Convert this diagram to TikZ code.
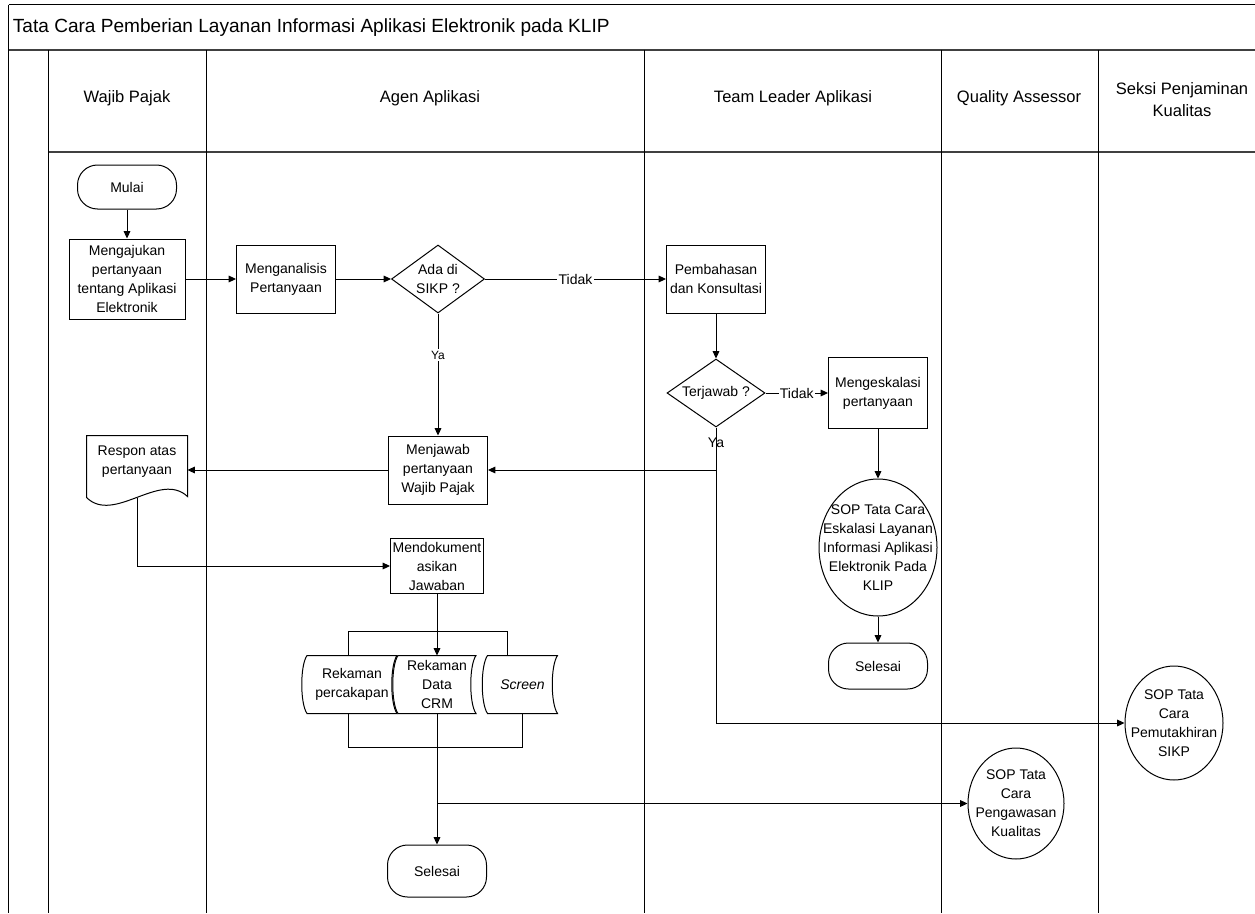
\documentclass[tikz,border=0pt]{standalone}
\usepackage{fontspec}
\setmainfont{Liberation Sans}
\usetikzlibrary{positioning,shapes.geometric,arrows.meta,calc}

\begin{document}
\begin{tikzpicture}[x=0.75pt, y=-0.75pt, line width=0.75pt,
    every node/.style={font=\fontsize{10.5}{14.25}\selectfont, align=center},
    proses/.style={draw, rectangle, inner sep=1pt, minimum width=74.25pt, minimum height=51pt},
    terminal/.style={draw, rectangle, rounded corners=15pt, minimum width=74.25pt},
    keputusan/.style={draw, diamond, inner sep=0pt},
    sop/.style={draw, ellipse, inner sep=0pt},
    rekaman/.style={rectangle, inner sep=0pt, minimum height=42.75pt},
    panah/.style={-{Triangle[length=5.5pt,width=5pt]}},
    lajur/.style={font=\fontsize{12.4}{16.5}\selectfont},
    ket/.style={fill=white, inner sep=1pt}]
    \useasboundingbox (0,0) rectangle (1255,913);

    \draw (8.5,5) -- (1255,5);
    \draw[line width=1.5pt, black!75] (8.5,50) -- (1255,50);
    \draw[line width=1.5pt, black!75] (48,152) -- (1255,152);
    \draw (8.5,5) -- (8.5,50);
    \foreach \x in {8.5,48,206,644,941,1098}
        \draw (\x,50) -- (\x,913);

    \node[anchor=west, font=\fontsize{14.3}{17}\selectfont] (judul) at (8,28) {Tata Cara Pemberian Layanan Informasi Aplikasi Elektronik pada KLIP};
    \node[lajur] (wp) at (127,98) {Wajib Pajak};
    \node[lajur] (agen) at (430,98) {Agen Aplikasi};
    \node[lajur] (tl) at (793,98) {Team Leader Aplikasi};
    \node[lajur] (qa) at (1019,98) {Quality Assessor};
    \node[lajur] (spk) at (1182,100) {Seksi Penjaminan\\Kualitas};

    \node[terminal, minimum height=33pt] (mulai) at (127,187) {Mulai};
    \node[proses, minimum width=87pt, minimum height=60pt] (ajukan) at (127,279) {Mengajukan\\pertanyaan\\tentang Aplikasi\\Elektronik};
    \node[proses] (analisis) at (286,279) {Menganalisis\\Pertanyaan};
    \node[keputusan, minimum width=69.75pt, minimum height=51pt, aspect=1.37] (sikp) at (438,279) {Ada di\\SIKP ?};
    \node[proses] (bahas) at (716,279) {Pembahasan\\dan Konsultasi};
    \node[keputusan, minimum width=73.5pt, minimum height=51pt, aspect=1.44] (terjawab) at (716,393) {Terjawab ?};
    \node[proses, minimum height=53.25pt] (eskalasi) at (878,393) {Mengeskalasi\\pertanyaan};
    \node[proses] (jawab) at (438,470) {Menjawab\\pertanyaan\\Wajib Pajak};
    \node[inner sep=0pt, minimum width=75pt, minimum height=39pt] (respon) at (137,462) {Respon atas\\pertanyaan};
    \node[proses, inner sep=0pt, minimum width=69.75pt, minimum height=41.25pt] (dokumen) at (437,566) {Mendokument\\asikan\\Jawaban};
    \node[rekaman, minimum width=66.75pt] (rek1) at (352,684.5) {Rekaman\\percakapan};
    \node[rekaman, minimum width=57.75pt] (crm) at (437,684.5) {Rekaman\\Data\\CRM};
    \node[rekaman, minimum width=51.75pt] (screen) at (522.5,684.5) {\textit{Screen}};
    \node[terminal, minimum height=39pt] (selesai) at (437,871) {Selesai};
    \node[sop, minimum width=88.5pt, minimum height=102.75pt] (eskal) at (878,547.5) {};
    \node (teks eskal) at (eskal) {SOP Tata Cara\\Eskalasi Layanan\\Informasi Aplikasi\\Elektronik Pada\\KLIP};
    \node[terminal, minimum height=34.5pt] (selesai2) at (878,666) {Selesai};
    \node[sop, minimum width=72pt, minimum height=83.25pt] (awas) at (1016,803.5) {};
    \node (teks awas) at (awas) {SOP Tata\\Cara\\Pengawasan\\Kualitas};
    \node[sop, minimum width=73.5pt, minimum height=85.5pt] (mutakhir) at (1174,723) {};
    \node (teks mutakhir) at (mutakhir) {SOP Tata\\Cara\\Pemutakhiran\\SIKP};

    \draw (respon.north west) -- (respon.north east) -- ($(respon.south east)+(0,8)$)
        .. controls ($(respon.south)+(23,-18)$) and ($(respon.south)+(-23,36)$) .. ($(respon.south west)+(0,9)$) -- cycle;
    \foreach \n in {rek1,crm,screen}
        \draw (\n.north west) .. controls +(-7,10) and +(-7,-10) .. (\n.south west) -- (\n.south east)
            .. controls +(-7,-10) and +(-7,10) .. (\n.north east) -- cycle;
    \draw ([xshift=-3pt]rek1.north) -- ++(0,-24) -| ([xshift=-11pt]screen.north);
    \draw ([xshift=-3pt]rek1.south) -- ++(0,34) -| (screen.south);

    \draw[panah] (mulai) -- (ajukan);
    \draw[panah] (ajukan) -- (analisis);
    \draw[panah] (analisis) -- (sikp);
    \draw[panah] (sikp) -- node[ket]{Tidak} (bahas);
    \draw[panah] (sikp) -- node[ket, pos=0.34, font=\fontsize{9}{11}\selectfont]{Ya} (jawab);
    \draw[panah] (bahas) -- (terjawab);
    \draw[panah] (terjawab) -- node[ket]{Tidak} (eskalasi);
    \draw[panah] (terjawab.south) |- (mutakhir.west);
    \node (ya) at (716,443) {Ya};
    \draw[panah] (terjawab.south |- jawab.east) -- (jawab.east);
    \draw[panah] (eskalasi) -- (eskal);
    \draw[panah] (eskal) -- (selesai2);
    \draw[panah] (jawab.west) -- (jawab.west -| respon.east);
    \draw[panah] ($(respon.south)+(0,9)$) |- (dokumen.west);
    \draw[panah] (dokumen) -- (crm);
    \draw[panah] (crm) -- (selesai);
    \draw[panah] (crm.south |- awas.west) -- (awas.west);
\end{tikzpicture}
\end{document}
